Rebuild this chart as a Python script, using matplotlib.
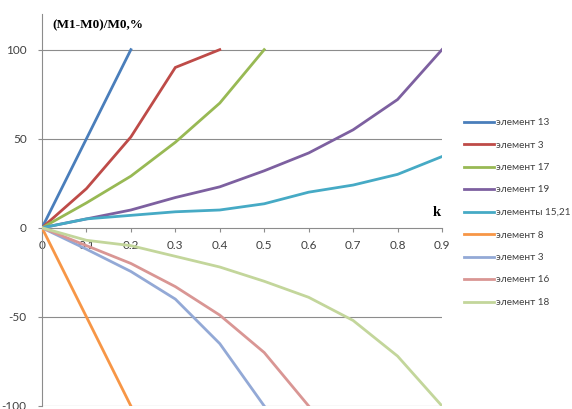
import matplotlib
matplotlib.use("Agg")
import matplotlib.pyplot as plt

k_values = [0.0, 0.1, 0.2, 0.3, 0.4, 0.5, 0.6, 0.7, 0.8, 0.9]

series_names = ["элемент 13", "элемент 3", "элемент 17", "элемент 19", "элементы 15,21",
                "элемент 8", "элемент 3", "элемент 16", "элемент 18"]

el13 = [0, 50, 100]
el3_pos = [0, 22, 51, 90, 100]
el17 = [0, 14, 29, 48, 70, 100]
el19 = [0, 5, 10, 17, 23, 32, 42, 55, 72, 100]
el15_21 = [0, 5, 7, 9, 10, 13.5, 20, 24, 30, 40]
el8 = [0, -50, -100]
el3_neg = [0, -12, -24.5, -40, -65, -100]
el16 = [0, -10, -20, -33, -49, -70, -100]
el18 = [0, -7, -10, -16, -22, -30, -39, -52, -72, -100]

series_values = [el13, el3_pos, el17, el19, el15_21, el8, el3_neg, el16, el18]
colors = ["#4A7EBB", "#BE4B48", "#98B954", "#7D60A0", "#46AAC5",
          "#F79646", "#93A9D6", "#D99694", "#C3D69B"]

y_ticks = [-100, -50, 0, 50, 100]
x_tick_labels = ["0", "0.1", "0.2", "0.3", "0.4", "0.5", "0.6", "0.7", "0.8", "0.9"]

fig = plt.figure(figsize=(5.72, 4.09), dpi=100)
ax = fig.add_axes([42/572, 3/409, 400/572, 392/409])

for yv in [100, 50, -50, -100]:
    ax.axhline(yv, color="#8C8C8C", lw=0.8, zorder=1)

for name, vals, c in zip(series_names, series_values, colors):
    ax.plot(k_values[:len(vals)], vals, color=c, lw=2.0, label=name, zorder=3,
            solid_joinstyle="miter")

ax.set_xlim(0, 0.9)
ax.set_ylim(-100, 120)
for s in ["top", "right"]:
    ax.spines[s].set_visible(False)
ax.spines["bottom"].set_position(("data", 0))
ax.spines["bottom"].set_color("#8C8C8C")
ax.spines["left"].set_color("#8C8C8C")
ax.spines["bottom"].set_zorder(2)

ax.set_xticks(k_values)
ax.set_xticklabels(x_tick_labels)
ax.set_yticks(y_ticks)
ax.set_yticklabels([str(v) for v in y_ticks])
ax.tick_params(axis="x", direction="out", length=3, color="#8C8C8C", labelsize=8.5,
               labelcolor="#404040", pad=6)
ax.tick_params(axis="y", direction="out", length=3, color="#8C8C8C", labelsize=8.5,
               labelcolor="#404040", pad=8)
for lab in ax.get_xticklabels() + ax.get_yticklabels():
    lab.set_family("Lato")

fig.text(52/572, 1 - 25/409, "(M1-M0)/M0,%", family="Liberation Serif", fontweight="bold",
         fontsize=9.5, va="center", ha="left")
fig.text(437/572, 1 - 213/409, "k", family="Liberation Serif", fontweight="bold",
         fontsize=10.5, va="center", ha="center")

leg = fig.legend(loc="upper left", bbox_to_anchor=(464/572, 1 - 118/409), frameon=False,
                 prop={"family": "Lato", "size": 7.2}, handlelength=3.0,
                 handletextpad=0.25, labelspacing=1.35, borderaxespad=0,
                 borderpad=0)
for t in leg.get_texts():
    t.set_color("#404040")

fig.savefig("out.png", dpi=100)
